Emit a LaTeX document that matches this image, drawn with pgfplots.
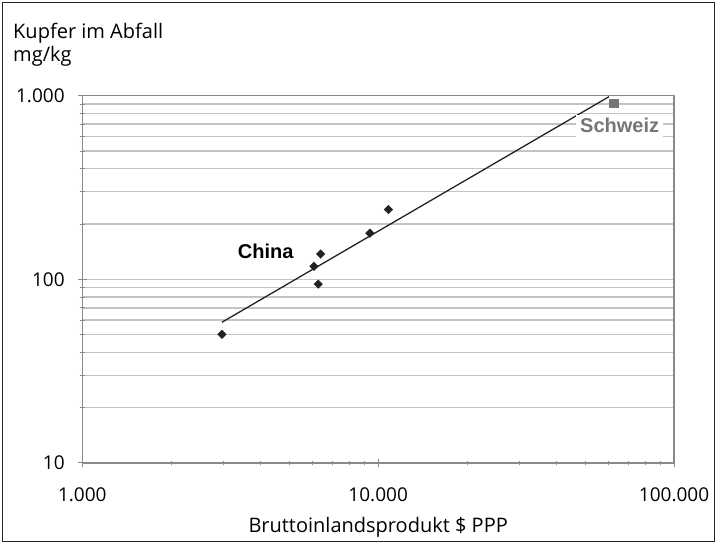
\documentclass[border=0pt]{standalone}
\usepackage{pgfplots}
\pgfplotsset{compat=1.18}
\usepackage{fontspec}
\setmainfont{Open Sans}
\newfontfamily\arialf{Liberation Sans}
\definecolor{gridc}{HTML}{C4C4C4}
\definecolor{axc}{HTML}{8A8A8A}
\definecolor{markc}{HTML}{222222}
\definecolor{sqc}{HTML}{767676}
\begin{document}
\begin{tikzpicture}[x=1pt,y=1pt]
\path (0,0) rectangle (718,544);
\begin{axis}[
  at={(82.3pt,81pt)}, anchor=south west,
  scale only axis, width=591.7pt, height=367.3pt,
  xmode=log, ymode=log,
  xmin=1000, xmax=100000, ymin=10, ymax=1000,
  xtick={1000,10000,100000}, xticklabels={1.000,10.000,100.000},
  ytick={10,100,1000}, yticklabels={10,100,1.000},
  minor xtick={2000,3000,4000,5000,6000,7000,8000,9000,20000,30000,40000,50000,60000,70000,80000,90000},
  minor ytick={20,30,40,50,60,70,80,90,200,300,400,500,600,700,800,900},
  ymajorgrids, yminorgrids,
  major grid style={gridc, line width=1.4pt},
  minor grid style={gridc, line width=1.4pt},
  axis line style={axc, line width=1.4pt},
  tick pos=left,
  tick align=center,
  major tick style={axc, line width=1pt},
  minor tick style={axc, line width=0.8pt},
  major tick length=9pt, minor tick length=5pt,
  ticklabel style={font=\fontsize{19}{22}\selectfont, inner sep=0pt},
  xticklabel style={anchor=base, yshift=-33.7pt},
  yticklabel style={anchor=east, xshift=-13pt},
  xlabel={Bruttoinlandsprodukt \$ PPP},
  xlabel style={font=\fontsize{20}{24}\selectfont, inner sep=0pt, at={(rel axis cs:0.5,0)}, anchor=base, yshift=-70pt},
  clip=false,
]
\addplot[markc, line width=1.3pt] coordinates {(2965,58.4) (60300,988)};
\addplot[only marks, mark=square*, mark size=3pt, mark options={rotate=45}, color=markc] coordinates {
(2965,50.2) (6065,117.7) (6390,137.3) (6270,94.2) (9375,178.5) (10835,240)};
\addplot[only marks, mark=square*, mark size=4.3pt, color=sqc] coordinates {(62560,908)};
\end{axis}
\draw[line width=1.2pt, black!85] (2.5,2.5) rectangle (714.5,541.5);
\node[anchor=base west, inner sep=0, font=\fontsize{20}{24}\selectfont] at (13,505.5) {Kupfer im Abfall};
\node[anchor=base west, inner sep=0, font=\fontsize{20}{24}\selectfont] at (13,482) {mg/kg};
\node[anchor=base west, inner sep=0, font=\arialf\bfseries\fontsize{20}{24}\selectfont] at (237.7,285.7) {China};
\node[anchor=base west, inner xsep=4pt, inner ysep=0pt, text height=17.3pt, text depth=4.3pt, fill=white, text=sqc, font=\arialf\bfseries\fontsize{20}{24}\selectfont] at (576,411.3) {Schweiz};
\end{tikzpicture}
\end{document}
